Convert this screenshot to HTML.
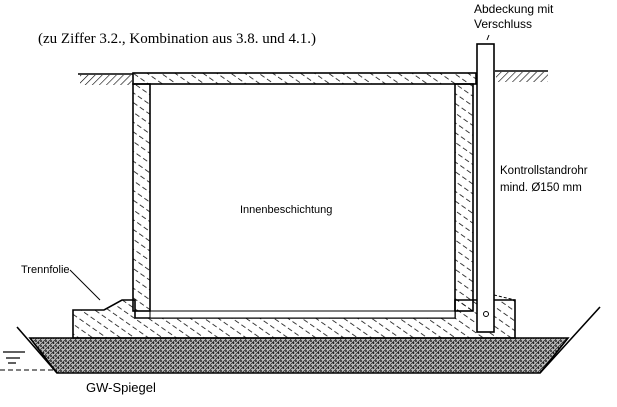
<!DOCTYPE html>
<html><head><style>
html,body{margin:0;padding:0;background:#fff;}
svg{display:block}
</style></head><body>
<svg width="617" height="407" viewBox="0 0 617 407" xmlns="http://www.w3.org/2000/svg">
<defs>
<pattern id="h" width="8" height="8" patternUnits="userSpaceOnUse" patternTransform="rotate(-55)">
<line x1="0" y1="0" x2="0" y2="5" stroke="#000" stroke-width="1.5"/>
</pattern>
<pattern id="g" width="5" height="5" patternUnits="userSpaceOnUse">
<rect width="5" height="5" fill="#bbb"/>
<circle cx="1" cy="1" r="0.9" fill="#000"/><circle cx="3.5" cy="3" r="0.9" fill="#000"/>
<line x1="0" y1="5" x2="5" y2="0" stroke="#222" stroke-width="0.7"/>
</pattern>
<pattern id="s" width="5" height="5" patternUnits="userSpaceOnUse" patternTransform="rotate(45)">
<line x1="0" y1="0" x2="0" y2="5" stroke="#000" stroke-width="1.2"/>
</pattern>
</defs>
<g font-family="'Liberation Sans',sans-serif" fill="#000">
<text x="38" y="43" font-family="'Liberation Serif',serif" font-size="15">(zu Ziffer 3.2., Kombination aus 3.8. und 4.1.)</text>
<text x="474" y="13" font-size="12">Abdeckung mit</text>
<text x="474" y="28" font-size="12">Verschluss</text>
<text x="500" y="174" font-size="11.5">Kontrollstandrohr</text>
<text x="500" y="191" font-size="11.5">mind. Ø150 mm</text>
<text x="240" y="213" font-size="11">Innenbeschichtung</text>
<text x="21" y="273" font-size="11">Trennfolie</text>
<text x="86" y="392" font-size="13">GW-Spiegel</text>
</g>
<g stroke="#000" fill="none" stroke-width="1.6">
<polygon points="30,338 568,338 540,373 57,373" fill="url(#g)"/>
<line x1="17" y1="327" x2="57" y2="373"/>
<line x1="600" y1="307" x2="540" y2="373"/>
<line x1="0" y1="370" x2="57" y2="370" stroke-dasharray="5,3" stroke-width="1"/>
<path d="M3,352 h22 M6,358 h14 M8,363 h8" stroke-width="1.2"/>
<polygon points="73,310 104,310 122,300 135,300 135,318 455,318 455,300 480,300 515,300 515,338 73,338" fill="url(#h)"/>
<rect x="150" y="311" width="305" height="7" fill="#fff" stroke-width="1"/>
<rect x="133" y="84" width="17" height="227" fill="url(#h)"/>
<rect x="455" y="84" width="18" height="227" fill="url(#h)"/>
<rect x="133" y="73" width="343" height="11" fill="url(#h)"/>
<line x1="78" y1="74" x2="133" y2="74"/>
<rect x="80" y="75" width="52" height="10" fill="url(#s)" stroke="none"/>
<line x1="495" y1="71" x2="548" y2="71"/>
<rect x="496" y="72" width="52" height="10" fill="url(#s)" stroke="none"/>
<rect x="477" y="44" width="17" height="288" fill="#fff"/>
<circle cx="486" cy="314" r="2.5" stroke-width="1"/>
<line x1="487" y1="40" x2="489" y2="35" stroke-width="1"/>
<line x1="70" y1="270" x2="100" y2="300" stroke-width="1"/>
<line x1="494" y1="295" x2="515" y2="300" stroke-width="1" stroke-dasharray="3,2"/>
</g>
</svg>
</body></html>
